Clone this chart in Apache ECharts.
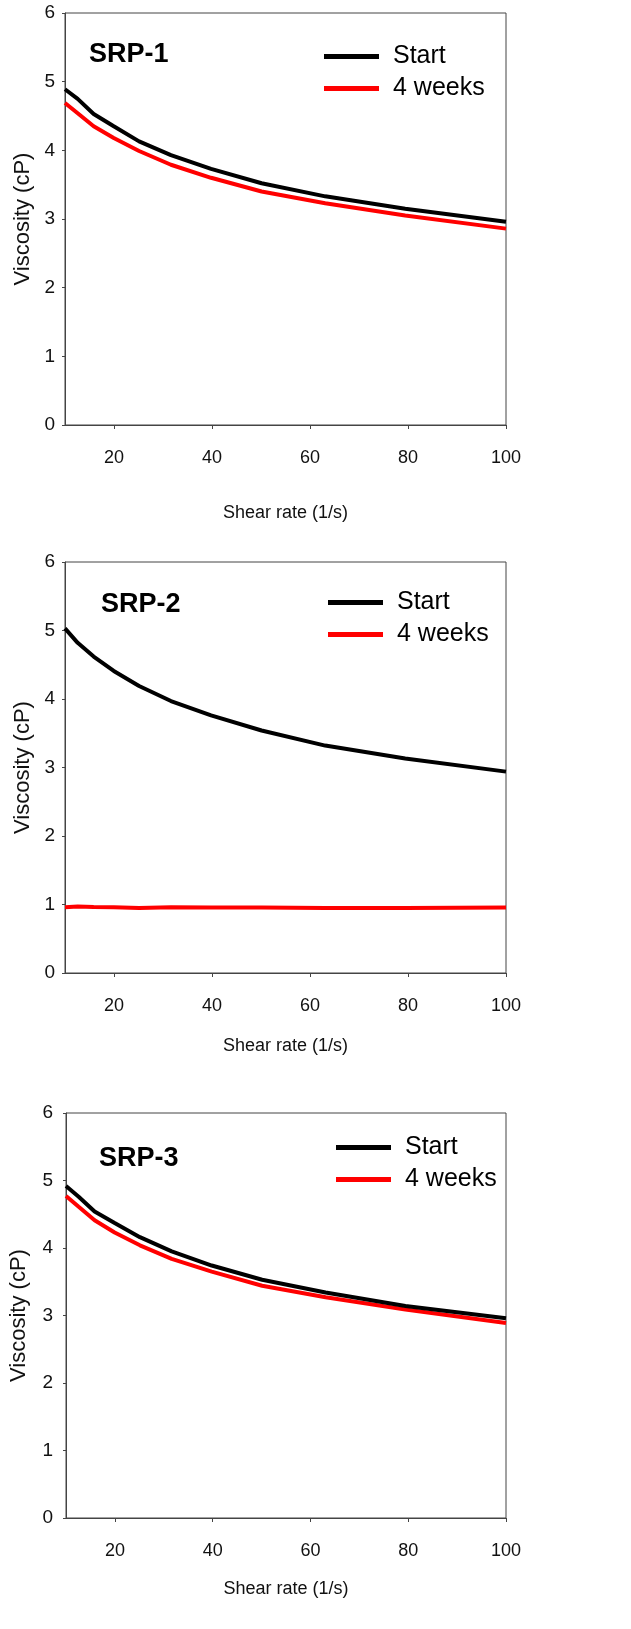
<!DOCTYPE html>
<html>
<head>
<meta charset="utf-8">
<script src="https://cdn.jsdelivr.net/npm/echarts@6/dist/echarts.min.js"></script>
<style>
html,body{margin:0;padding:0;background:#fff;}
#chart{width:631px;height:1629px;}
</style>
</head>
<body>
<div id="chart"></div>
<script>
// Shear rate points (1/s), log spaced
var shearRate = [10, 12.59, 15.85, 19.95, 25.12, 31.62, 39.81, 50.12, 63.10, 79.43, 100];
var xTicks = [20, 40, 60, 80, 100];
var yTicks = [0, 1, 2, 3, 4, 5, 6];
var panelNames = ['SRP-1', 'SRP-2', 'SRP-3'];
var seriesNames = ['Start', '4 weeks'];

var srp1Start = [4.89, 4.75, 4.53, 4.35, 4.13, 3.93, 3.73, 3.52, 3.33, 3.15, 2.96];
var srp1Weeks = [4.69, 4.54, 4.35, 4.18, 3.99, 3.79, 3.60, 3.40, 3.23, 3.05, 2.86];
var srp2Start = [5.03, 4.82, 4.62, 4.41, 4.19, 3.97, 3.76, 3.54, 3.32, 3.13, 2.94];
var srp2Weeks = [0.96, 0.97, 0.965, 0.96, 0.95, 0.96, 0.955, 0.955, 0.95, 0.95, 0.957];
var srp3Start = [4.92, 4.76, 4.54, 4.37, 4.16, 3.95, 3.74, 3.53, 3.34, 3.14, 2.96];
var srp3Weeks = [4.77, 4.61, 4.41, 4.23, 4.04, 3.84, 3.65, 3.44, 3.27, 3.09, 2.89];

var panelData = [[srp1Start, srp1Weeks], [srp2Start, srp2Weeks], [srp3Start, srp3Weeks]];

var FONT = 'Arial, "Liberation Sans", sans-serif';
var colors = ['#000000', '#ff0000'];

// layout per panel
var layout = [
  {top: 13, height: 412, xNameGap: 79, yNameGap: 30, yLabelMargin: 10, titleLeft: 89, titleTop: 41, legLeft: 324, legTop: 44},
  {top: 562, height: 411, xNameGap: 64, yNameGap: 30, yLabelMargin: 10, titleLeft: 101, titleTop: 591, legLeft: 328, legTop: 590},
  {top: 1113, height: 405, xNameGap: 62, yNameGap: 36, yLabelMargin: 13, titleLeft: 99, titleTop: 1145, legLeft: 336, legTop: 1135}
];

var grids = [], xAxes = [], yAxes = [], series = [], titles = [], legends = [];
layout.forEach(function (L, i) {
  grids.push({left: 65, top: L.top, width: 441, height: L.height, show: true, borderColor: '#444', borderWidth: 1, backgroundColor: 'transparent'});
  xAxes.push({
    type: 'value', gridIndex: i, min: 10, max: 100,
    name: 'Shear rate (1/s)', nameLocation: 'middle', nameGap: L.xNameGap,
    nameTextStyle: {fontFamily: FONT, fontSize: 18, color: '#111'},
    axisLine: {show: true, lineStyle: {color: '#444', width: 1}},
    axisTick: {show: true, length: 4, lineStyle: {color: '#444'}, customValues: xTicks},
    axisLabel: {fontFamily: FONT, fontSize: 18, color: '#111', margin: 24, customValues: xTicks},
    splitLine: {show: false}
  });
  yAxes.push({
    type: 'value', gridIndex: i, min: 0, max: 6, interval: 1,
    name: 'Viscosity (cP)', nameLocation: 'middle', nameGap: L.yNameGap,
    nameTextStyle: {fontFamily: FONT, fontSize: 22, color: '#111'},
    axisLine: {show: true, lineStyle: {color: '#444', width: 1}},
    axisTick: {show: true, length: 3, lineStyle: {color: '#444'}},
    axisLabel: {fontFamily: FONT, fontSize: 19, color: '#111', margin: L.yLabelMargin,
      formatter: function (v) { return yTicks.indexOf(v) >= 0 ? String(v) : ''; }},
    splitLine: {show: false}
  });
  seriesNames.forEach(function (nm, k) {
    series.push({
      type: 'line', name: nm, xAxisIndex: i, yAxisIndex: i,
      data: shearRate.map(function (x, j) { return [x, panelData[i][k][j]]; }),
      showSymbol: false, smooth: false,
      lineStyle: {color: colors[k], width: 4},
      itemStyle: {color: colors[k]},
      z: 3 - k
    });
  });
  titles.push({
    text: panelNames[i], left: L.titleLeft, top: L.titleTop, padding: 0,
    textStyle: {fontFamily: FONT, fontSize: 27, fontWeight: 'bold', color: '#000'}
  });
  legends.push({
    data: seriesNames, orient: 'vertical', left: L.legLeft, top: L.legTop, padding: 0,
    icon: 'rect', itemWidth: 55, itemHeight: 5, itemGap: 7,
    textStyle: {fontFamily: FONT, fontSize: 25, color: '#000', padding: [0, 0, 0, 9]},
    selectedMode: false
  });
});

var chart = echarts.init(document.getElementById('chart'), null, {renderer: 'canvas'});
chart.setOption({
  animation: false,
  backgroundColor: '#fff',
  color: colors,
  title: titles,
  legend: legends,
  grid: grids,
  xAxis: xAxes,
  yAxis: yAxes,
  series: series
});
</script>
</body>
</html>
